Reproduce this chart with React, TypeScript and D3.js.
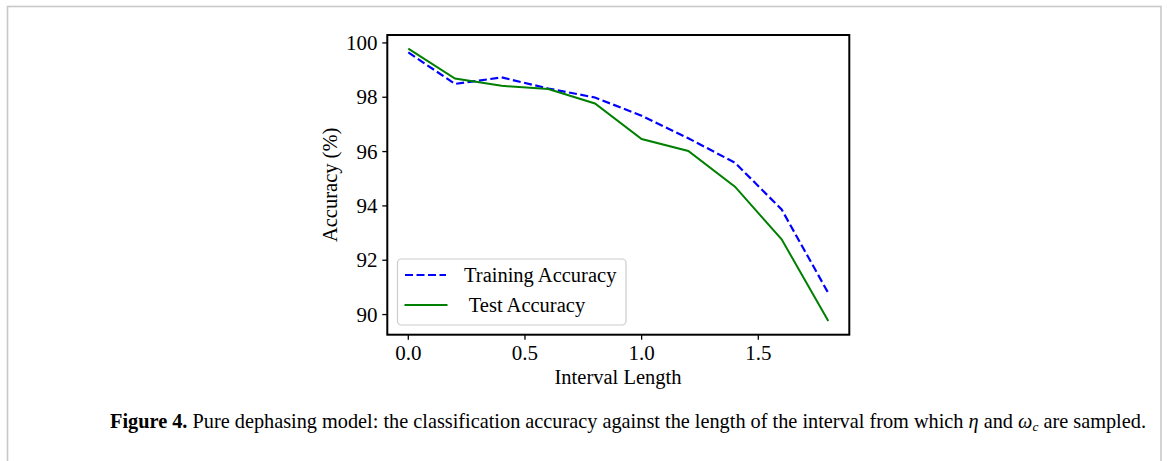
import React from "react";
import * as d3 from "d3";

const intervalLengths = [0, 0.2, 0.4, 0.6, 0.8, 1.0, 1.2, 1.4, 1.6, 1.8];
const trainingAccuracy = [99.65, 98.49, 98.73, 98.32, 97.99, 97.32, 96.49, 95.59, 93.87, 90.79];
const testAccuracy = [99.79, 98.69, 98.42, 98.3, 97.77, 96.46, 96.02, 94.71, 92.77, 89.76];
const xTicks = [0.0, 0.5, 1.0, 1.5];
const yTicks = [90, 92, 94, 96, 98, 100];
const seriesNames = ["Training Accuracy", " Test Accuracy"];

const W = 1167;
const H = 461;
const serif = "'Liberation Serif', 'Times New Roman', serif";

export default function App() {
  const left = 387.3, right = 849.3, top = 35, bottom = 334.7;
  const xMin = d3.min(intervalLengths)!, xMax = d3.max(intervalLengths)!;
  const xPad = (xMax - xMin) * 0.05;
  const all = [...trainingAccuracy, ...testAccuracy];
  const yMin = d3.min(all)!, yMax = d3.max(all)!;
  const yPad = (yMax - yMin) * 0.05;
  const x = d3.scaleLinear().domain([xMin - xPad, xMax + xPad]).range([left, right]);
  const y = d3.scaleLinear().domain([yMin - yPad, yMax + yPad]).range([bottom, top]);
  const line = d3
    .line<number>()
    .x((_, i) => x(intervalLengths[i]))
    .y((d) => y(d));

  const legX = 397.5, legY = 259, legW = 228.5, legH = 66;

  return (
    <svg width={W} height={H} style={{ position: "absolute", left: 0, top: 0, background: "#fff" }}>
      <rect x={0} y={0} width={W} height={H} fill="#fff" />
      <rect x={7.5} y={6.5} width={1153.5} height={470} fill="none" stroke="#c8c8c8" strokeWidth={1.6} />

      <path d={line(trainingAccuracy)!} fill="none" stroke="#0000ff" strokeWidth={2.2} strokeDasharray="8,3.5" />
      <path d={line(testAccuracy)!} fill="none" stroke="#008000" strokeWidth={2} />

      <rect x={left} y={top} width={right - left} height={bottom - top} fill="none" stroke="#000" strokeWidth={2} />

      {xTicks.map((t) => (
        <g key={"x" + t}>
          <line x1={x(t)} x2={x(t)} y1={bottom} y2={bottom + 5} stroke="#000" strokeWidth={1.3} />
          <text x={x(t)} y={359.5} textAnchor="middle" fontFamily={serif} fontSize={21} fill="#000">
            {t.toFixed(1)}
          </text>
        </g>
      ))}
      {yTicks.map((t) => (
        <g key={"y" + t}>
          <line x1={left - 5} x2={left} y1={y(t)} y2={y(t)} stroke="#000" strokeWidth={1.3} />
          <text x={377.5} y={y(t) + 7} textAnchor="end" fontFamily={serif} fontSize={21} fill="#000">
            {t}
          </text>
        </g>
      ))}

      <text x={618} y={383.5} textAnchor="middle" fontFamily={serif} fontSize={20.5} fill="#000">
        Interval Length
      </text>
      <text
        transform={`translate(337,${(top + bottom) / 2}) rotate(-90)`}
        textAnchor="middle"
        fontFamily={serif}
        fontSize={20.5}
        fill="#000"
      >
        Accuracy (%)
      </text>

      <rect x={legX} y={legY} width={legW} height={legH} rx={4} fill="#fff" fillOpacity={0.8} stroke="#cccccc" strokeWidth={1.2} />
      <line x1={405} x2={446} y1={275} y2={275} stroke="#0000ff" strokeWidth={2.2} strokeDasharray="8,3.5" />
      <line x1={404.5} x2={447.5} y1={305} y2={305} stroke="#008000" strokeWidth={2} />
      <text x={464} y={282} fontFamily={serif} fontSize={20.5} fill="#000">{seriesNames[0]}</text>
      <text x={464} y={312} fontFamily={serif} fontSize={20.5} fill="#000" style={{ whiteSpace: "pre" }}>
        {seriesNames[1]}
      </text>

      <text x={628} y={427.5} textAnchor="middle" fontFamily={serif} fontSize={20.3} fill="#000">
        <tspan fontWeight="bold">Figure 4.</tspan>
        <tspan> Pure dephasing model: the classification accuracy against the length of the interval from which </tspan>
        <tspan fontStyle="italic">η</tspan>
        <tspan> and </tspan>
        <tspan fontStyle="italic">ω</tspan>
        <tspan fontStyle="italic" fontSize={13.5} dy={3.5}>c</tspan>
        <tspan dy={-3.5}> are sampled.</tspan>
      </text>
    </svg>
  );
}
